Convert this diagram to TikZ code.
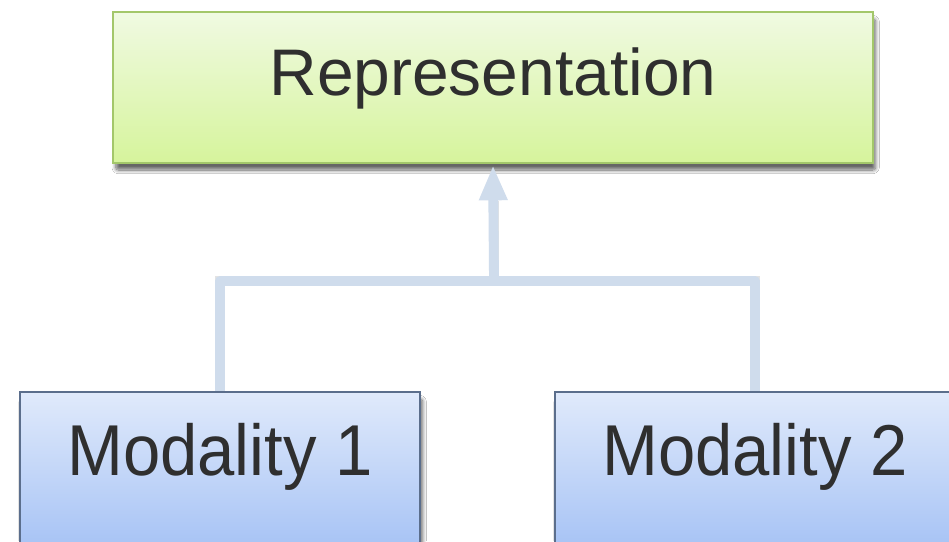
\documentclass[tikz,border=0pt]{standalone}
\usepackage{fontspec}
\setmainfont{Liberation Sans}
\newfontfamily\modfont[FakeStretch=0.93]{Liberation Sans}
\usetikzlibrary{arrows.meta,shadows.blur}
\definecolor{txt}{HTML}{2F2F2F}
\definecolor{greentop}{HTML}{F0FAE2}
\definecolor{greenbot}{HTML}{D6F49C}
\definecolor{greenedge}{HTML}{A3C76A}
\definecolor{bluetop}{HTML}{E0EAFB}
\definecolor{bluebot}{HTML}{A7C3F5}
\definecolor{blueedge}{HTML}{5B6E8C}
\definecolor{connc}{HTML}{CFDCEC}
\tikzset{
  x=0.02cm, y=-0.02cm,
  boxshadow/.style={blur shadow={shadow xshift=1.5pt, shadow yshift=-4pt,
      shadow blur steps=10, shadow blur extra rounding=1.5pt, shadow opacity=60}},
  repbox/.style={rectangle, draw=greenedge, line width=1.5pt,
      top color=greentop, bottom color=greenbot, boxshadow,
      minimum width=15.2cm, minimum height=3.02cm, text=txt,
      font=\fontsize{37.5}{40}\selectfont, text height=0.9em, text depth=0pt},
  modbox/.style={rectangle, draw=blueedge, line width=1.2pt,
      top color=bluetop, bottom color=bluebot, boxshadow,
      minimum width=8cm, minimum height=3.1cm, text=txt,
      font=\modfont\fontsize{41}{44}\selectfont, text height=0.89em, text depth=0.22em},
  conn/.style={draw=connc, line width=5.6pt},
  connshade/.style={draw=black!50, line width=5.6pt, opacity=0.22},
}
\begin{document}
\begin{tikzpicture}
\useasboundingbox (0,0) rectangle (949,541);
\clip (0,0) rectangle (949,541);
\fill[white] (0,0) rectangle (949,541);

% boxes
\node[repbox] (rep) at (493,87.5) {Representation};
\node[modbox] (m1) at (220,469.5) {Modality 1};
\node[modbox] (m2) at (755,469.5) {Modality 2};

% junction point of the two feeds
\coordinate (j) at (494,281);

% faint shadow under the connector
\begin{scope}[yshift=-2.5pt, xshift=0.8pt]
  \draw[connshade] (m1.north) |- (j) -| (m2.north);
  \draw[connshade] (j) -- ++(0,-80);
\end{scope}

% connectors
\draw[conn, line join=round] (m1.north) |- (j) -| (m2.north);
\draw[conn, -{Triangle[width=15pt, length=20pt]}, shorten >=0.5pt] (j) -- (rep.south);
\end{tikzpicture}
\end{document}
